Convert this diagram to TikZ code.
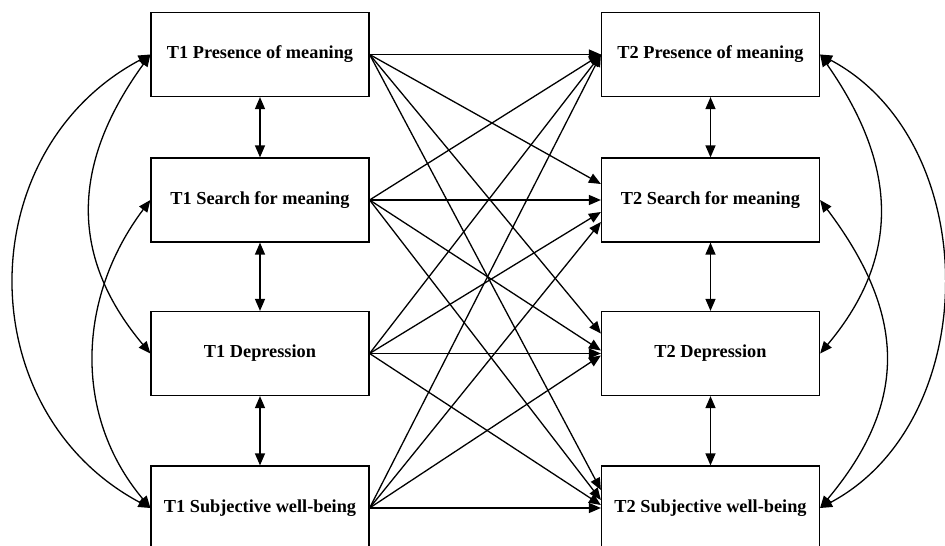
\documentclass[tikz,border=0pt]{standalone}
\usepackage{fontspec}
\setmainfont{Liberation Serif}
\usetikzlibrary{arrows.meta}

\tikzset{box/.style={draw,line width=1.2pt,minimum width=218pt,minimum height=84pt,
                     font=\bfseries\fontsize{18.3}{22}\selectfont},
         arr/.style={line width=1.3pt,-{Triangle[length=12pt,width=10pt]}},
         dbl/.style={line width=1.3pt,{Triangle[length=12pt,width=10pt]}-{Triangle[length=12pt,width=10pt]}}}

\begin{document}
\begin{tikzpicture}[x=1pt,y=1pt]
                \useasboundingbox (0,0) rectangle (945,546);
                \node[box] (P1) at (260,491.5) {T1 Presence of meaning};
                \node[box] (S1) at (260,346) {T1 Search for meaning};
                \node[box] (D1) at (260,192.5) {T1 Depression};
                \node[box] (W1) at (260,38) {T1 Subjective well-being};
                \node[box] (P2) at (710.5,491.5) {T2 Presence of meaning};
                \node[box] (S2) at (710.5,346) {T2 Search for meaning};
                \node[box] (D2) at (710.5,192.5) {T2 Depression};
                \node[box] (W2) at (710.5,38) {T2 Subjective well-being};
                \draw[dbl] (P1) -- (S1);
                \draw[dbl] (S1) -- (D1);
                \draw[dbl] (D1) -- (W1);
                \draw[dbl] (P2) -- (S2);
                \draw[dbl] (S2) -- (D2);
                \draw[dbl] (D2) -- (W2);
                \draw[arr] (P1.east) -- (P2.west);
                \draw[arr] (P1.east) -- ([yshift=16pt]S2.west);
                \draw[arr] (P1.east) -- ([yshift=20pt]D2.west);
                \draw[arr] (P1.east) -- ([yshift=18pt]W2.west);
                \draw[arr] (S1.east) -- (P2.west);
                \draw[arr] (S1.east) -- (S2.west);
                \draw[arr] (S1.east) -- ([yshift=3pt]D2.west);
                \draw[arr] (S1.east) -- ([yshift=8pt]W2.west);
                \draw[arr] (D1.east) -- (P2.west);
                \draw[arr] (D1.east) -- ([yshift=-12pt]S2.west);
                \draw[arr] (D1.east) -- (D2.west);
                \draw[arr] (D1.east) -- ([yshift=3pt]W2.west);
                \draw[arr] (W1.east) -- (P2.west);
                \draw[arr] (W1.east) -- ([yshift=-22pt]S2.west);
                \draw[arr] (W1.east) -- ([yshift=-2pt]D2.west);
                \draw[arr] (W1.east) -- (W2.west);
                \draw[dbl] (P1.west) to[out=208,in=152,looseness=1.16] (W1.west);
                \draw[dbl] (P1.west) to[out=234,in=130,looseness=1.12] (D1.west);
                \draw[dbl] (S1.west) to[out=233,in=130,looseness=1.01] (W1.west);
                \draw[dbl] (P2.east) to[out=-28,in=28,looseness=1.05] (W2.east);
                \draw[dbl] (P2.east) to[out=-55,in=50,looseness=1.12] (D2.east);
                \draw[dbl] (S2.east) to[out=-53,in=50,looseness=1.17] (W2.east);
            \end{tikzpicture}
\end{document}
